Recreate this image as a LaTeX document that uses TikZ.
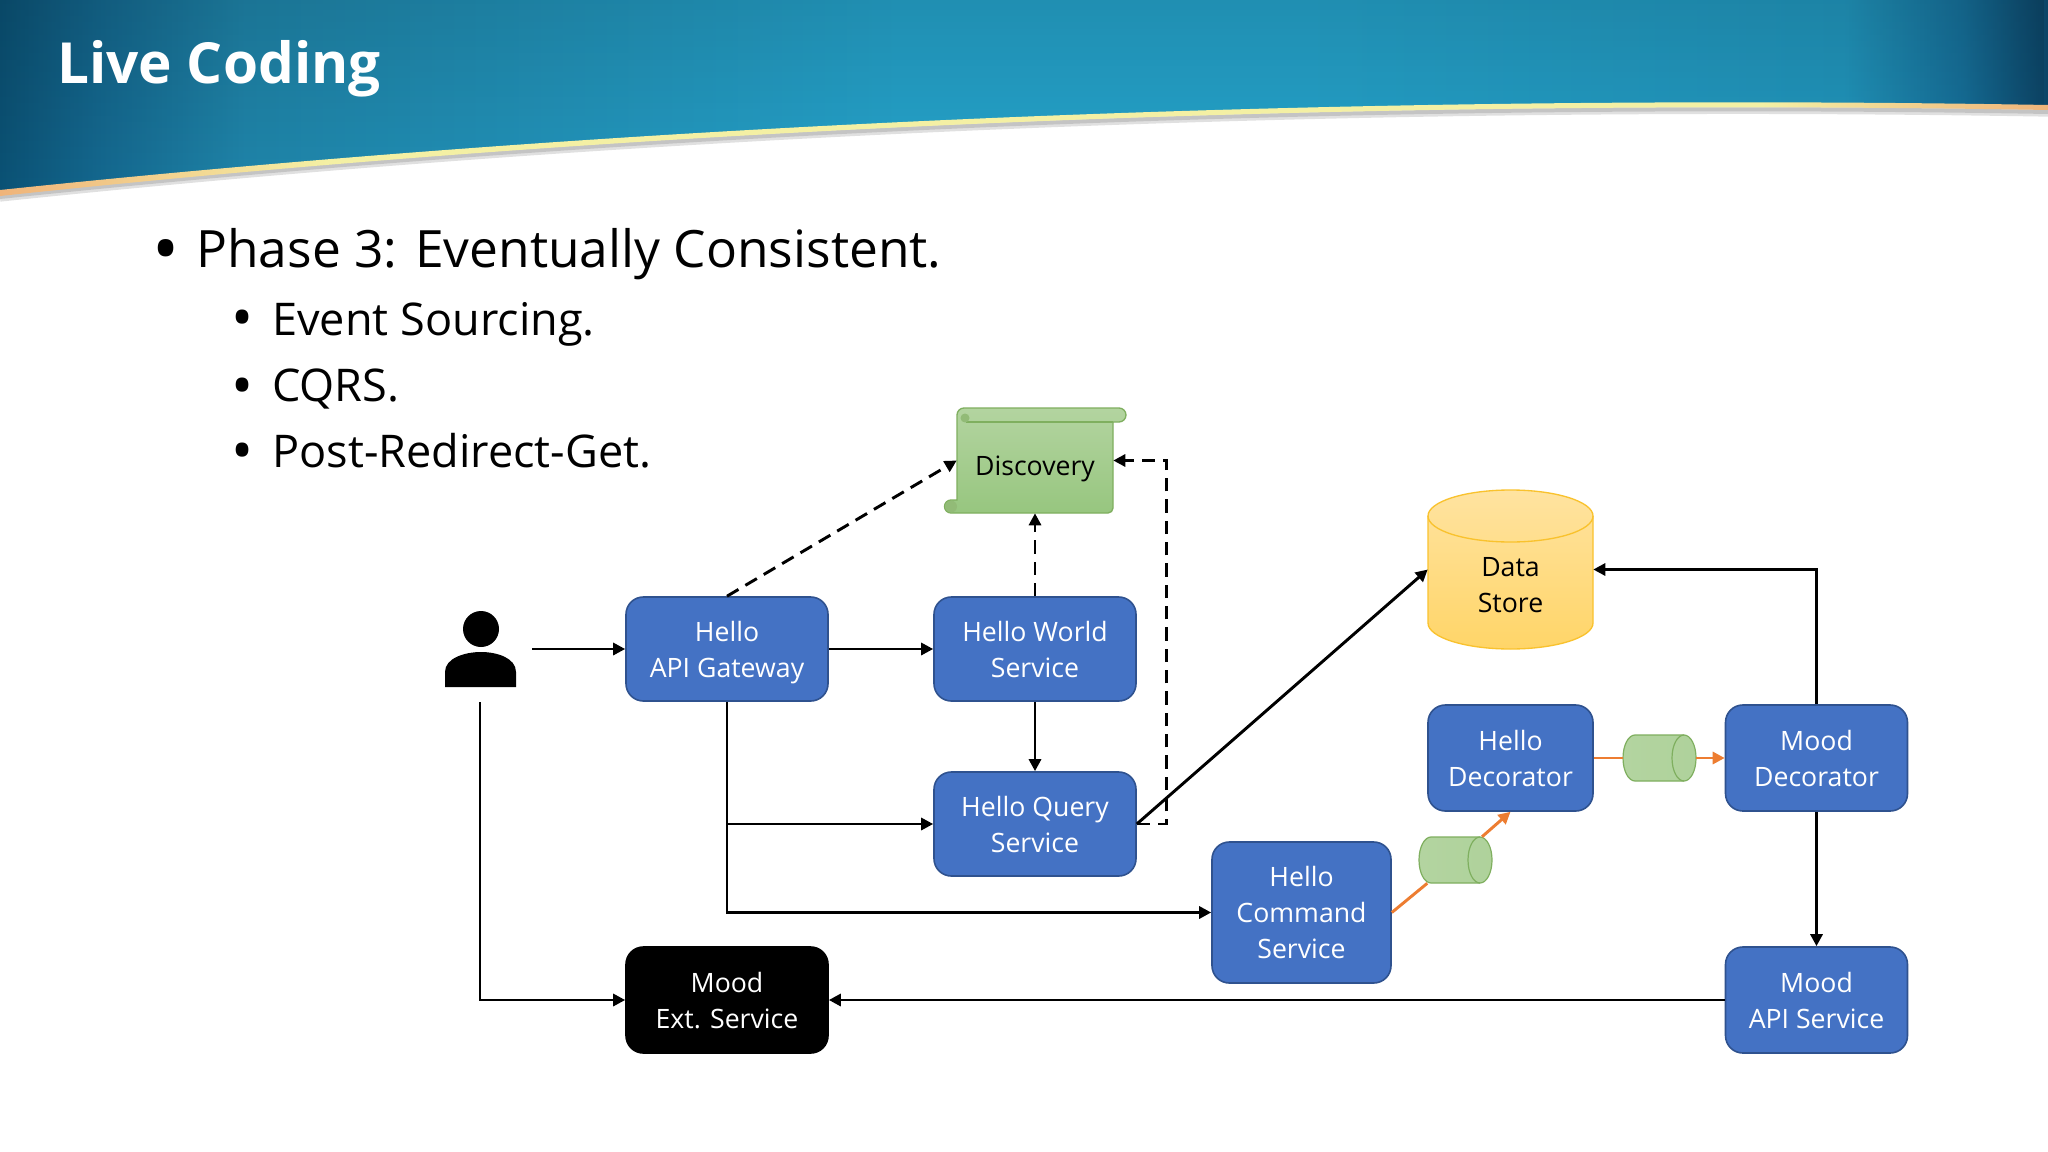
\documentclass[tikz,border=0pt]{standalone}
\usepackage{fontspec}
\setmainfont{Open Sans}
\usetikzlibrary{arrows.meta,fadings}
\definecolor{main}{HTML}{4472C4}
\definecolor{mainedge}{HTML}{2F528F}
\definecolor{green1}{HTML}{B3D4A0}
\definecolor{green2}{HTML}{97C67F}
\definecolor{greenedge}{HTML}{7FAF5F}
\definecolor{gold1}{HTML}{FFE3A0}
\definecolor{gold2}{HTML}{FFD568}
\definecolor{goldedge}{HTML}{F9C22E}
\definecolor{wire}{HTML}{ED7D31}
\definecolor{banner0}{HTML}{0B5275}
\definecolor{banner1}{HTML}{14688F}
\definecolor{banner2}{HTML}{1F85AA}
\definecolor{banner3}{HTML}{25A3CB}
\definecolor{banner4}{HTML}{2196BD}
\definecolor{banner5}{HTML}{16709A}
\definecolor{banner6}{HTML}{0C4466}
\definecolor{stripe0}{HTML}{F0B47A}
\definecolor{stripe1}{HTML}{F4F0A4}
\pgfdeclarehorizontalshading{bannershade}{100bp}{
	color(0bp)=(banner0); color(25bp)=(banner0); color(27.4bp)=(banner1);
	color(31bp)=(banner2); color(47bp)=(banner3); color(56.7bp)=(banner3);
	color(70bp)=(banner4); color(72.9bp)=(banner5); color(75bp)=(banner6); color(100bp)=(banner6)}
\pgfdeclarehorizontalshading{goldshade}{100bp}{
	color(0bp)=(stripe0); color(25bp)=(stripe0); color(33bp)=(stripe1);
	color(68bp)=(stripe1); color(75bp)=(stripe0); color(100bp)=(stripe0)}
\tikzset{
	service/.style={draw=mainedge,line width=1.2pt,fill=main,text=white,rounded corners=13pt,
		align=center,inner sep=0pt,text depth=0pt,font=\fontsize{20}{27}\selectfont},
	link/.style={line width=2.2pt,-{Triangle[length=9pt,width=9pt]}},
	lookup/.style={link,dash pattern=on 10pt off 6pt},
	wireline/.style={link,wire},
	bullet/.style={anchor=base west,inner sep=0pt}
}
\begin{document}
\begin{tikzpicture}[x=.75pt,y=-.75pt]
	\useasboundingbox (0,0) rectangle (2048,1152);
	\fill[white] (0,0) rectangle (2048,1152);

	% banner
	\foreach \w/\s in {6/3.5,3/3}
		\draw[black,opacity=.12,line width=\w pt,yshift=-\s pt] (0,193) .. controls (600,130) and (1300,95) .. (2048,108);
	\shade[shading=bannershade] (0,0) -- (2048,0) -- (2048,108) .. controls (1300,95) and (600,130) .. (0,193) -- cycle;
	\fill[black,opacity=.12,path fading=south] (0,0) -- (2048,0) -- (2048,108) .. controls (1300,95) and (600,130) .. (0,193) -- cycle;
	\shade[shading=goldshade] (0,190) .. controls (600,127) and (1300,92) .. (2048,105) -- (2048,110) .. controls (1300,97) and (600,132) .. (0,196) -- cycle;
	\node[bullet,text=white,font=\bfseries\fontsize{42.5}{50}\selectfont] (title) at (57,84) {Live Coding};

	% text
	\node[bullet,font=\fontsize{54}{60}\selectfont] (dot1) at (152,274) {•};
	\node[bullet,font=\fontsize{38.6}{48}\selectfont] (line1) at (196,267) {Phase 3: Eventually Consistent.};
	\foreach \y/\t/\n/\b in {335/Event Sourcing./2/338,401/CQRS./3/406,467/Post-Redirect-Get./4/471}{
		\node[bullet,font=\fontsize{44}{50}\selectfont] (dot\n) at (231,\b) {•};
		\node[bullet,font=\fontsize{33.8}{40}\selectfont] (line\n) at (272,\y) {\t};
	}

	% nodes
	\node[minimum width=78pt,minimum height=79.5pt,inner sep=0pt] (user) at (480,649) {};
	\fill[black] (481,629) circle (18);
	\fill[black] (445,687) -- (445,672) .. controls (445,658) and (465,652) .. (481,652) .. controls (497,652) and (516,658) .. (516,672) -- (516,687) -- cycle;

	\node[service,minimum width=151.5pt,minimum height=78pt] (gateway) at (727,649) {Hello\\API Gateway};
	\node[service,minimum width=151.5pt,minimum height=78pt] (world) at (1035,649) {Hello World\\Service};
	\node[service,minimum width=151.5pt,minimum height=78pt] (query) at (1035,824) {Hello Query\\Service};
	\node[service,minimum width=134.25pt,minimum height=105.75pt] (command) at (1301.5,912.5) {Hello\\Command\\Service};
	\node[service,minimum width=123.75pt,minimum height=79.5pt] (hellodec) at (1510.5,758) {Hello\\Decorator};
	\node[service,minimum width=136.5pt,minimum height=79.5pt] (mooddec) at (1816.5,758) {Mood\\Decorator};
	\node[service,minimum width=136.5pt,minimum height=79.5pt] (moodapi) at (1816.5,1000) {Mood\\API Service};
	\node[service,fill=black,draw=black,minimum width=151.5pt,minimum height=79.5pt] (moodext) at (727,1000) {Mood\\Ext. Service};

	% data store
	\shade[top color=gold1,bottom color=gold2,draw=goldedge,line width=1pt] (1428,516) arc (180:360:82.5 and 26) -- (1593,623) arc (0:180:82.5 and 26) -- cycle;
	\draw[goldedge,line width=1pt] (1428,516) arc (180:0:82.5 and 26);
	\node[minimum width=123.75pt,minimum height=119.25pt,inner sep=0pt,align=center,font=\fontsize{20}{27}\selectfont] (store) at (1510.5,569.5) {\rule{0pt}{37pt}Data\\Store};

	% queues
	\foreach \cx/\cy/\n in {1659.5/758/queuea,1455.5/860/queueb}{
		\begin{scope}[shift={(\cx,\cy)}]
			\shade[left color=green1,right color=green1!85!green2,draw=greenedge,line width=.9pt] (-24.5,-23) -- (24.5,-23) arc (-90:90:12 and 23) -- (-24.5,23) arc (90:270:12 and 23) -- cycle;
			\draw[greenedge,line width=.9pt] (24.5,-23) arc (270:90:12 and 23);
			\node[minimum width=54.75pt,minimum height=34.5pt,inner sep=0pt] (\n) at (0,0) {};
		\end{scope}
	}

	% discovery scroll
	\shade[top color=green1,bottom color=green2,draw=greenedge,line width=1pt] (964,408) -- (1119,408) arc (-90:90:7) -- (1113,422) -- (1113,508) arc (0:90:5) -- (951,513) arc (90:270:6.5) -- (957,500) -- (957,415) arc (180:270:7) -- cycle;
	\draw[greenedge,line width=1pt] (966,422) -- (1113,422);
	\fill[greenedge!85] (951,506.5) circle (6);
	\fill[greenedge!85] (965,418) circle (4.5);
	\node[minimum width=117pt,minimum height=78.75pt,inner sep=0pt,text height=28pt,text depth=5pt,font=\fontsize{20}{27}\selectfont] (discovery) at (1035,460.5) {Discovery};

	% connectors
	\draw[link] (user.east) -- (gateway.west);
	\draw[link] (gateway.east) -- (world.west);
	\draw[link] (world.south) -- (query.north);
	\draw[link] (gateway.south) |- (query.west);
	\draw[link] (gateway.south) |- (command.west);
	\draw[link] (user.south) |- (moodext.west);
	\draw[link] (query.east) -- (store.west);
	\draw[link] (mooddec.north) |- (store.east);
	\draw[link] (mooddec.south) -- (moodapi.north);
	\draw[link] (moodapi.west) -- (moodext.east);

	\draw[lookup] (gateway.north) -- (discovery.west);
	\draw[lookup] (world.north) -- (discovery.south);
	\draw[lookup] (query.east) -- ++(30,0) |- (discovery.east);

	\draw[wireline,-] (hellodec.east) -- (queuea.west);
	\draw[wireline] (queuea.east) -- (mooddec.west);
	\draw[wireline,-] (command.east) -- (queueb);
	\draw[wireline] (queueb) -- (hellodec.south);
\end{tikzpicture}
\end{document}
